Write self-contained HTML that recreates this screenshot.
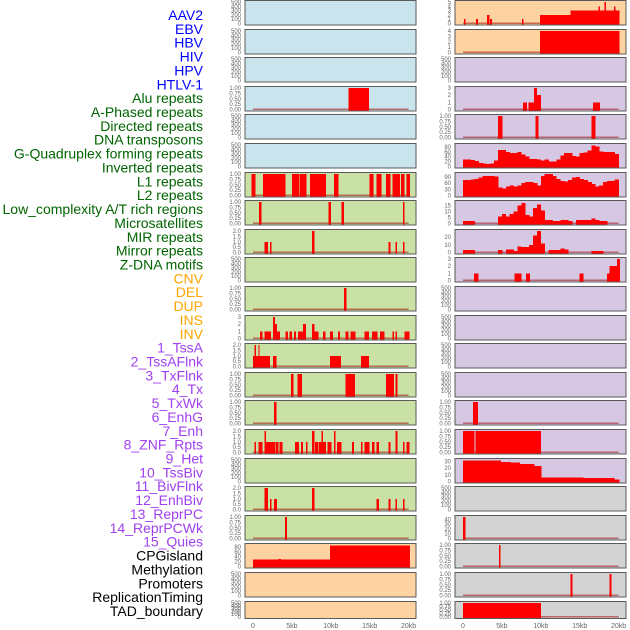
<!DOCTYPE html>
<html><head><meta charset="utf-8"><style>
html,body{margin:0;padding:0;background:#fff;}
svg{display:block;font-family:"Liberation Sans",sans-serif;}
</style></head><body>
<svg id="chart" width="630" height="630" viewBox="0 0 630 630" xmlns="http://www.w3.org/2000/svg"></svg>
<script>
// ---- Data ----
const trackLabels = ["AAV2","EBV","HBV","HIV","HPV","HTLV-1","Alu repeats","A-Phased repeats","Directed repeats","DNA transposons","G-Quadruplex forming repeats","Inverted repeats","L1 repeats","L2 repeats","Low_complexity A/T rich regions","Microsatellites","MIR repeats","Mirror repeats","Z-DNA motifs","CNV","DEL","DUP","INS","INV","1_TssA","2_TssAFlnk","3_TxFlnk","4_Tx","5_TxWk","6_EnhG","7_Enh","8_ZNF_Rpts","9_Het","10_TssBiv","11_BivFlnk","12_EnhBiv","13_ReprPC","14_ReprPCWk","15_Quies","CPGisland","Methylation","Promoters","ReplicationTiming","TAD_boundary"];
const labelGroups = ["v","v","v","v","v","v","r","r","r","r","r","r","r","r","r","r","r","r","r","s","s","s","s","s","c","c","c","c","c","c","c","c","c","c","c","c","c","c","c","o","o","o","o","o"];
const xTicks = [0,5,10,15,20];
const xTickLabels = ["0","5kb","10kb","15kb","20kb"];
const emptyTicks = [0,100,200,300,400,500];
const unitTicks = [0,0.25,0.5,0.75,1];
const unitTickLabels = ["0.00","0.25","0.50","0.75","1.00"];
const twoTicks = [0,0.5,1,1.5,2];
const twoTickLabels = ["0.0","0.5","1.0","1.5","2.0"];

// left column segments [startKb, endKb, value]
const aluLeft = [[12.3,14.9,1]];
const l1Left = [[-0.2,0.3,1],[1.3,4.2,1],[5.0,5.9,1],[6.0,6.9,1],[7.3,9.4,1],[10.4,11.0,1],[15.0,15.5,1],[15.9,16.5,1],[17.1,17.7,1],[17.9,18.9,1],[19.0,19.5,1],[19.7,20.2,1]];
const p7Left = [[0.8,1.1,1],[9.7,10.0,1],[11.4,11.7,1],[19.3,19.5,1]];
const p8Left = [[1.5,1.9,1],[2.2,2.4,1],[7.6,7.9,2],[17.4,17.7,1],[18.3,18.5,1],[19.3,19.5,1]];
const p10Left = [[11.7,12.0,1]];
const p11Left = [[0.9,1.2,1],[1.5,2.3,1],[2.6,2.8,3],[2.8,3.1,2],[3.1,3.5,1],[4.2,4.5,1],[4.7,5.0,1],[5.3,5.5,1],[5.8,6.4,1],[6.4,6.8,2],[7.6,7.9,2],[7.9,8.4,1],[9.0,9.3,1],[9.9,10.3,1],[10.9,11.2,1],[11.9,12.3,1],[12.5,13.2,1],[14.3,14.9,1],[15.3,16.0,1],[16.3,16.9,1],[17.9,18.1,1],[18.3,18.5,1],[19.5,20.1,1]];
const p12Left = [[0,0.2,1],[0.2,0.4,2],[0.4,0.7,1],[0.7,0.8,2],[0.8,1.7,1],[1.7,2.2,1],[2.6,3.0,1],[9.9,10.8,1],[10.8,11.3,1],[13.9,14.9,1]];
const p13Left = [[4.9,5.2,1],[5.7,6.3,1],[11.9,13.1,1],[17.1,17.5,1],[17.5,18.1,1],[18.3,18.6,1]];
const p14Left = [[2.7,3.0,1]];
const p15Left = [[0.2,0.4,1],[0.7,1.2,1],[1.5,1.7,2],[1.7,2.2,1],[2.2,2.8,1],[2.9,3.3,1],[3.4,3.8,1],[5.4,5.9,1],[6.2,6.4,1],[6.8,7.0,1],[7.6,7.9,2],[8.0,8.4,1],[8.5,8.8,1],[8.8,9.0,2],[9.0,9.4,1],[9.6,10.1,1],[10.4,10.6,2],[10.8,11.4,1],[12.7,13.0,1],[13.9,14.1,1],[14.3,15.0,1],[15.3,15.6,1],[15.9,16.2,1],[17.4,17.7,1],[18.3,18.6,2],[19.3,19.5,1],[19.7,20.1,1]];
const p17Left = [[1.5,1.9,2],[2.2,2.4,1],[2.7,3.1,1],[7.6,7.9,2],[15.9,16.2,1],[17.4,17.7,1],[18.3,18.5,1],[19.3,19.5,1]];
const p18Left = [[4.1,4.4,1]];
const p19Left = [[0,3.3,28],[3.3,3.6,30],[3.6,9.9,28],[9.9,20.2,85]];

// right column
const aavRight = [[0.1,0.3,1],[1.7,1.9,1],[3.1,3.4,2],[3.5,3.7,1],[7.6,7.8,1],[9.9,13.8,2],[13.8,17.4,3],[17.4,17.6,4],[17.6,18.2,3],[18.2,18.4,5],[18.4,19.4,3],[19.4,19.6,4],[19.6,20.1,3]];
const ebvRight = [[9.9,20.1,4]];
const aluRight = [[7.7,8.2,1],[8.4,9.1,1],[9.1,9.5,3],[9.5,10.0,2],[16.7,17.6,1]];
const p4Right = [[4.5,5.1,1],[9.3,9.7,1],[16.5,17.0,1]];
const gquadBins = [28,28,26,22,15,12,10,12,25,68,68,60,55,55,60,50,40,30,30,28,25,28,20,20,28,45,55,55,42,40,55,58,65,85,82,62,60,60,60,52];
const l1Bins = [75,76,78,80,88,95,95,95,92,40,35,45,48,45,48,62,66,65,62,50,95,105,105,95,80,70,68,75,88,90,80,75,65,55,45,50,65,70,70,78];
const lowBins = [2,2,2,0,0,0,0,0,0,6,8,6,8,10,15,17,7,6,13,16,11,3,3,2,2,3,3,2,0,3,3,3,3,4,3,2,2,0,0,0];
const microBins = [3,3,3,0,0,0,0,0,0,3,0,4,4,2,8,7,7,10,22,28,12,0,3,3,3,5,4,0,0,0,0,0,0,2,2,2,0,0,0,0];
const mirRight = [[1.4,2.0,1],[6.6,7.5,1],[8.1,8.6,1],[15.0,15.5,1],[18.5,18.8,1],[18.8,19.8,2],[19.8,20.2,3]];
const p14Right = [[1.3,1.9,1]];
const p15Right = [[0,1.45,1],[1.6,10.0,1]];
const p16Right = [[0,4.9,31],[4.9,6.1,29],[6.1,7.3,28],[7.3,9.2,26],[9.2,10.1,23],[10.1,15.5,6],[15.5,19.5,5],[19.5,20.1,3]];
const p18Right = [[0,0.3,45]];
const p19Right = [[4.6,4.8,1]];
const p20Right = [[13.8,14.1,1],[18.8,19.1,1]];
const p21Right = [[0,10.0,1]];

// ---- Layout ----
const BG = {b:"#c9e4ec",g:"#c9e1a5",o:"#ffd3a1",p:"#d6c7e3",k:"#d3d3d3"};
const GROUPCOL = {v:"#0000ff",r:"#006400",s:"#ffa500",c:"#a040f0",o:"#000000"};
function binsToSeg(b){const s=[];for(let i=0;i<b.length;i++){if(b[i]>0)s.push([i*0.5,i*0.5+0.55,b[i]]);}return s;}
const E = null;
const leftPanels = [
 ["b",E,500],["b",E,500],["b",E,500],["b",aluLeft,1,"u"],["b",E,500],["b",E,500],
 ["g",l1Left,1,"u"],["g",p7Left,1,"u"],["g",p8Left,2,"t"],["g",E,500],["g",p10Left,1,"u"],
 ["g",p11Left,3,[0,1,2,3]],["g",p12Left,2,"t"],["g",p13Left,1,"u"],["g",p14Left,1,"u"],
 ["g",p15Left,2,"t"],["g",E,500],["g",p17Left,2,"t"],["g",p18Left,1,"u"],
 ["o",p19Left,88,[0,20,40,60,80]],["o",E,500],["o",E,500]
];
const rightPanels = [
 ["o",aavRight,5,[0,1,2,3,4,5]],["o",ebvRight,4,[0,1,2,3,4]],["p",E,500],["p",aluRight,3,[0,1,2,3]],
 ["p",p4Right,1,"u"],["p",binsToSeg(gquadBins),88,[0,20,40,60,80]],["p",binsToSeg(l1Bins),105,[0,30,60,90]],
 ["p",binsToSeg(lowBins),18,[0,5,10,15]],["p",binsToSeg(microBins),28,[0,10,20]],["p",mirRight,3,[0,1,2,3]],
 ["p",E,500],["p",E,500],["p",E,500],["p",E,500],["p",p14Right,1,"u"],["p",p15Right,1,"u"],
 ["p",p16Right,32,[0,10,20,30]],["k",E,500],["k",p18Right,45,[0,10,20,30,40]],["k",p19Right,1,"u"],
 ["k",p20Right,1,"u"],["k",p21Right,1,"u"]
];

const svg = document.getElementById("chart");
const NS = "http://www.w3.org/2000/svg";
function mk(tag, attrs, parent){const e=document.createElementNS(NS,tag);for(const k in attrs)e.setAttribute(k,attrs[k]);(parent||svg).appendChild(e);return e;}

// labels
trackLabels.forEach((t,i)=>{
  const el = mk("text",{x:203,y:15+i*13.86+5,"text-anchor":"end","font-size":"14",fill:GROUPCOL[labelGroups[i]]});
  el.textContent = t;
  
  
});

function drawPanel(col, i, p){
  const left = col===0?245:455, w = 171;
  const top = Math.round(i*28.6)+0.5;
  const h = i===21?17:24.5;
  const x0 = col===0?253:463;
  const kx = 7.78;
  const xs = kb => x0 + kb*kx;
  const bottom = top+h;
  const ymax = p[2];
  const ys = v => bottom-1.5 - v/ymax*(h-3);
  const g = mk("g",{});
  
  
  const bg = mk("rect",{x:left,y:top,width:w,height:h,fill:BG[p[0]],stroke:"#5a5a5a","stroke-width":1},g);
  
  
  let ticks, tl;
  if(p[1]===null){ticks=emptyTicks;tl=emptyTicks.map(String);}
  else if(p[3]==="u"){ticks=unitTicks;tl=unitTickLabels;}
  else if(p[3]==="t"){ticks=twoTicks;tl=twoTickLabels;}
  else {ticks=p[3];tl=ticks.map(String);}
  ticks.forEach((v,j)=>{
    const t = mk("text",{x:left-4,y:ys(v)+2,"text-anchor":"end","font-size":"6",fill:"#666"},g);
    t.textContent = tl[j];
    
    
  });
  if(p[1]!==null){
    const bl = mk("rect",{x:xs(0),y:bottom-2.5,width:xs(20)-xs(0),height:1.5,fill:"#a01010",opacity:0.55},g);
    
    
    p[1].forEach(s=>{
      const yv = Math.max(ys(s[2]), top+0.5);
      const r = mk("rect",{x:xs(s[0]),y:yv,width:Math.max(xs(s[1])-xs(s[0]),1),height:bottom-0.5-yv,fill:"#ff0000","shape-rendering":"crispEdges"},g);
      
      
    });
  }
  if(i===21){
    xTicks.forEach((v,j)=>{
      const t = mk("text",{x:xs(v),y:628,"text-anchor":"middle","font-size":"7",fill:"#666"});
      t.textContent = xTickLabels[j];
      
      
    });
  }
}
leftPanels.forEach((p,i)=>drawPanel(0,i,p));
rightPanels.forEach((p,i)=>drawPanel(1,i,p));
</script>
</body></html>
